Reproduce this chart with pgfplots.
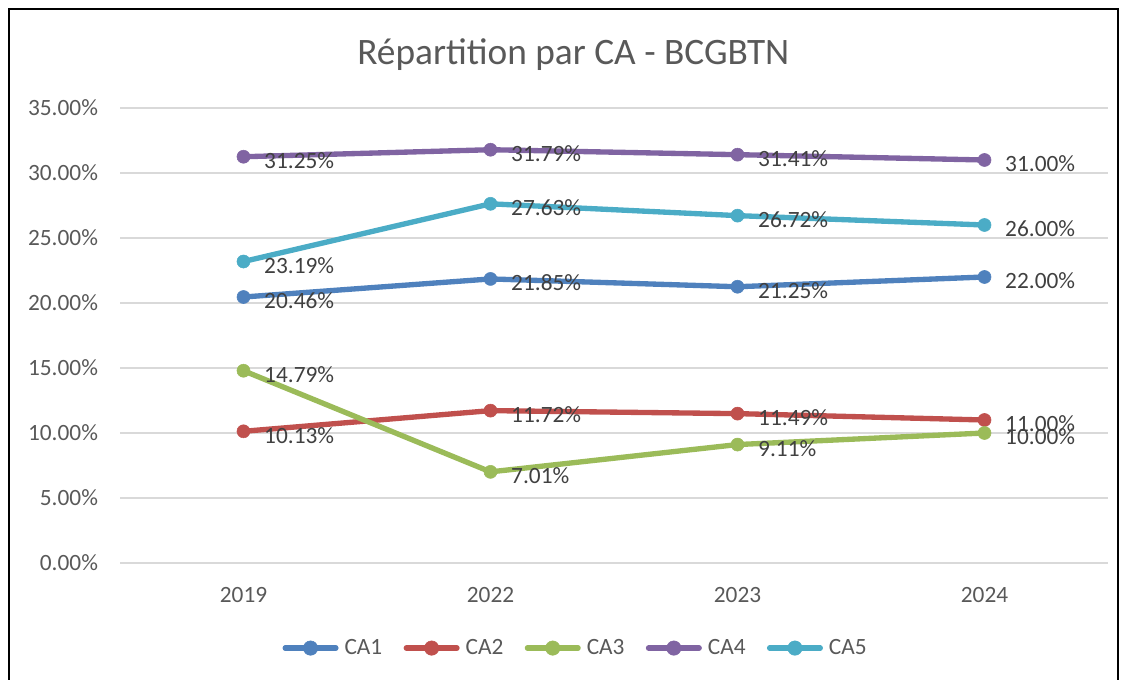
\documentclass[border=0pt]{standalone}
\usepackage{fontspec}
\setmainfont{Carlito}
\usepackage{pgfplots}
\pgfplotsset{compat=1.18}
\definecolor{caA}{HTML}{4F81BD}
\definecolor{caB}{HTML}{C0504D}
\definecolor{caC}{HTML}{9BBB59}
\definecolor{caD}{HTML}{8064A2}
\definecolor{caE}{HTML}{4BACC6}
\definecolor{txt}{HTML}{595959}
\definecolor{lbl}{HTML}{404040}
\definecolor{grd}{HTML}{D9D9D9}
\begin{document}
\begin{tikzpicture}
\path[use as bounding box] (0,0) rectangle (842.25pt,510pt);
\draw[line width=1.5pt] (6.75pt,0) -- (6.75pt,503.25pt) -- (838.5pt,503.25pt) -- (838.5pt,0);
\node[text=txt, anchor=base, font=\fontsize{28}{32}\selectfont] at (430pt,461.25pt) {Répartition par CA - BCGBTN};
\begin{axis}[
  at={(90pt,87.75pt)}, anchor=south west,
  scale only axis, width=741pt, height=341.25pt,
  xmin=-0.5, xmax=3.5, ymin=0, ymax=35,
  xtick={0,1,2,3}, xticklabels={2019,2022,2023,2024},
  ytick={0,5,...,35},
  yticklabel={\pgfmathprintnumber[fixed,fixed zerofill,precision=2]{\tick}\%},
  /pgf/number format/assume math mode=true,
  tick label style={text=txt, font=\fontsize{17.5}{19}\selectfont},
  xticklabel style={yshift=-15pt},
  yticklabel style={xshift=-13pt},
  major tick length=0pt,
  axis line style={draw=none},
  ymajorgrids, grid style={grd, line width=1.1pt},
  every axis plot/.append style={line width=4pt, mark=*, mark size=4.9pt,
    nodes near coords={\pgfmathprintnumber[fixed,fixed zerofill,precision=2]{\pgfplotspointmeta}\%},
    every node near coord/.append style={anchor=west, xshift=12pt, yshift=-3pt, text=lbl,
      font=\fontsize{17.5}{19}\selectfont}},
  legend columns=5,
  legend style={draw=none, fill=none, at={(0.4615,-0.187)}, anchor=center,
    text=txt, font=\fontsize{17.5}{19}\selectfont,
    /tikz/every odd column/.append style={column sep=2.5pt},
    /tikz/every even column/.append style={column sep=14pt}},
  legend image code/.code={\draw[line cap=round, mark repeat=2, mark phase=2, mark size=5.4pt]
    plot coordinates {(0pt,0pt) (19pt,0pt) (38pt,0pt)};},
]
\addplot[caA, mark options={fill=caA, line width=0.4pt}] coordinates {(0,20.46) (1,21.85) (2,21.25) (3,22.00)};
\addlegendentry{CA1}
\addplot[caB, mark options={fill=caB, line width=0.4pt}] coordinates {(0,10.13) (1,11.72) (2,11.49) (3,11.00)};
\addlegendentry{CA2}
\addplot[caC, mark options={fill=caC, line width=0.4pt}] coordinates {(0,14.79) (1,7.01) (2,9.11) (3,10.00)};
\addlegendentry{CA3}
\addplot[caD, mark options={fill=caD, line width=0.4pt}] coordinates {(0,31.25) (1,31.79) (2,31.41) (3,31.00)};
\addlegendentry{CA4}
\addplot[caE, mark options={fill=caE, line width=0.4pt}] coordinates {(0,23.19) (1,27.63) (2,26.72) (3,26.00)};
\addlegendentry{CA5}
\end{axis}
\end{tikzpicture}
\end{document}
